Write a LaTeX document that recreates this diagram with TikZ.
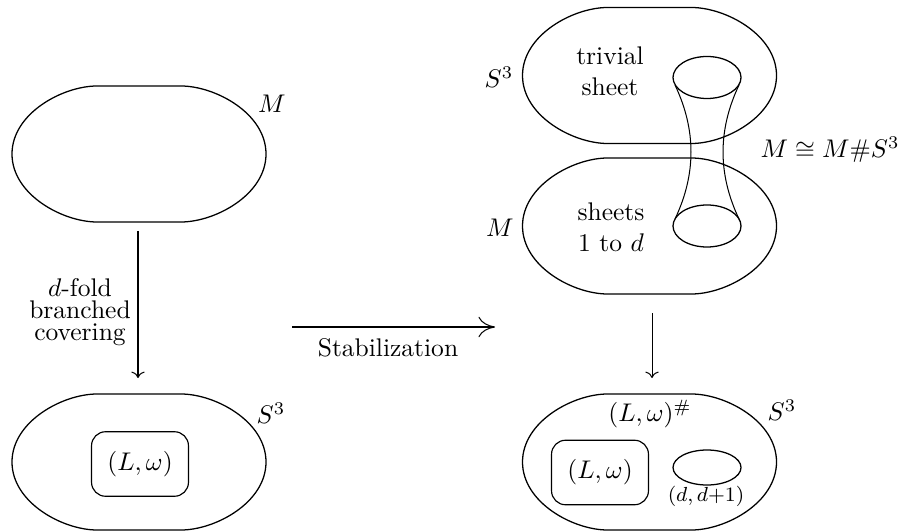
\documentclass[tikz,border=0pt]{standalone}
\usetikzlibrary{arrows.meta}
\begin{document}
\begin{tikzpicture}[x=0.392pt,y=-0.392pt]
\tikzset{
  blob/.style={line width=0.5pt},
  thinline/.style={line width=0.4pt},
  lbl/.style={inner sep=0pt},
  lbox/.style={draw,line width=0.45pt,rounded corners=5.5pt,minimum width=38pt,minimum height=25.3pt,inner sep=0pt},
  arr/.style={line width=0.4pt,->},
  bigarr/.style={line width=0.4pt,-{To[length=6.5pt,width=8pt]}},
}
\useasboundingbox (0,0) rectangle (907,531);
% centers of the stadium shapes
\coordinate (cTL) at (139,154);
\coordinate (cBL) at (139,462);
\coordinate (cTR) at (649.5,75.5);
\coordinate (cMR) at (649.5,226);
\coordinate (cBR) at (649.5,462);
\foreach \c in {cTL,cBL,cTR,cMR,cBR}{
  \begin{scope}[shift={(\c)}]
  \draw[blob] (-42,-68) -- (42,-68)
     .. controls (76,-68) and (127,-40.8) .. (127,0)
     .. controls (127,40.8) and (76,68) .. (42,68)
     -- (-42,68)
     .. controls (-76,68) and (-127,40.8) .. (-127,0)
     .. controls (-127,-40.8) and (-76,-68) .. (-42,-68) -- cycle;
  \end{scope}
}
% left column
\node[lbl] (M1) at (272,104) {$M$};
\coordinate (a1s) at (138,231);
\coordinate (a1e) at (138,378);
\draw[arr] (a1s) -- (a1e);
\node[lbl,align=center,font={\fontsize{10pt}{8.6pt}\selectfont}] (cov) at (80,312) {$d$-fold\\branched\\covering};
\node[lbl] (S1) at (271,413) {$S^3$};
\node[lbox] (L1) at (140,464) {$(L,\omega)$};
% stabilization arrow
\coordinate (hs) at (292,327);
\coordinate (he) at (495,327);
\draw[bigarr] (hs) -- (he);
\node[lbl] (stab) at (388,348) {Stabilization};
% right column top
\node[lbl] (S2) at (499,77) {$S^3$};
\node[lbl,align=center] (triv) at (610,71) {trivial\\sheet};
\node[lbl] (M2) at (500,228) {$M$};
\node[lbl,align=center] (sheets) at (611,227) {sheets\\1 to $d$};
\node[lbl] (iso) at (830,150) {$M \cong M\#S^3$};
\draw[blob] (707,77.5) ellipse[x radius=34,y radius=21];
\draw[blob] (707,226) ellipse[x radius=34,y radius=21];
\coordinate (t1) at (675,85);
\coordinate (b1) at (675,219);
\coordinate (t2) at (739,85);
\coordinate (b2) at (739,219);
\draw[thinline] (t1) .. controls (696.3,130) and (696.3,174) .. (b1);
\draw[thinline] (t2) .. controls (717.7,130) and (717.7,174) .. (b2);
% right column bottom
\coordinate (a2s) at (652,313);
\coordinate (a2e) at (652,378);
\draw[arr] (a2s) -- (a2e);
\node[lbl] (S3) at (782,410) {$S^3$};
\node[lbl] (Lh) at (650,414) {$(L,\omega)^\#$};
\node[lbox] (L2) at (600,472.5) {$(L,\omega)$};
\draw[blob] (707,467.5) ellipse[x radius=34,y radius=17.5];
\node[lbl,font=\footnotesize] (dd) at (706,496) {$(d,d{+}1)$};
\end{tikzpicture}
\end{document}
